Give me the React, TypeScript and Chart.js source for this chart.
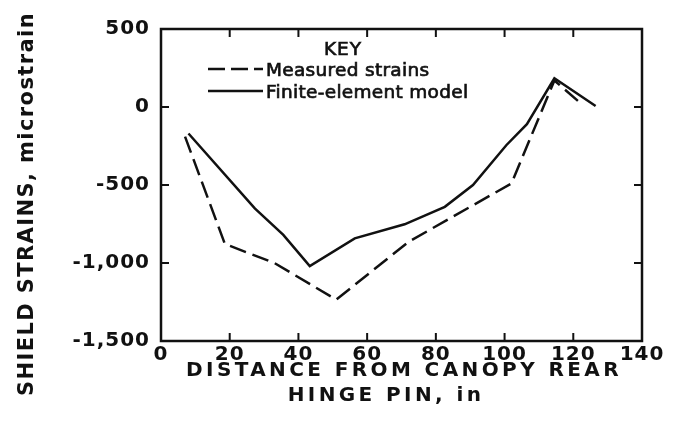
import React, { useEffect, useRef } from "react";
import { Chart, registerables } from "chart.js";

Chart.register(...registerables);

// ---- data ----
const xTicks = [0, 20, 40, 60, 80, 100, 120, 140];
const yTicks = [-1500, -1000, -500, 0, 500];

const measuredX = [7, 18.6, 33, 51, 72, 102, 114.5, 122.6];
const measuredY = [-190, -878, -1000, -1235, -865, -490, 170, 15];

const modelX = [8, 27.3, 35.6, 43.3, 56.4, 70.9, 82.6, 90.8, 100.5, 106.5, 114.5, 126.5];
const modelY = [-170, -650, -820, -1020, -842, -752, -640, -500, -245, -110, 184, 6];

const seriesNames = ["Measured strains", "Finite-element model"];
const legendTitle = "KEY";
const xTitleLines = ["DISTANCE FROM CANOPY REAR", "HINGE PIN, in"];
const yTitle = "SHIELD STRAINS, microstrain";

const INK = "#111";

function boldText(ctx: any, text: string, x: number, y: number, w: number) {
  ctx.fillText(text, x, y);
  if (w > 0) {
    ctx.lineWidth = w;
    ctx.strokeText(text, x, y);
  }
}

const decorPlugin = {
  id: "decor",
  beforeDraw(chart: any) {
    chart.ctx.letterSpacing = "1px";
  },
  afterDraw(chart: any) {
    const ctx = chart.ctx;
    const { left, right, top, bottom } = chart.chartArea;
    const xs = chart.scales.x;
    const ys = chart.scales.y;
    ctx.save();
    ctx.letterSpacing = "0px";
    ctx.strokeStyle = INK;
    ctx.lineWidth = 2.5;
    ctx.setLineDash([]);
    ctx.strokeRect(left, top, right - left, bottom - top);
    ctx.lineWidth = 2;
    const tl = 8;
    xTicks.slice(1, -1).forEach((v) => {
      const px = xs.getPixelForValue(v);
      ctx.beginPath();
      ctx.moveTo(px, bottom);
      ctx.lineTo(px, bottom - tl);
      ctx.moveTo(px, top);
      ctx.lineTo(px, top + tl);
      ctx.stroke();
    });
    yTicks.slice(1, -1).forEach((v) => {
      const py = ys.getPixelForValue(v);
      ctx.beginPath();
      ctx.moveTo(left, py);
      ctx.lineTo(left + tl, py);
      ctx.moveTo(right, py);
      ctx.lineTo(right - tl, py);
      ctx.stroke();
    });

    // legend
    ctx.fillStyle = INK;
    ctx.font = "18.5px 'DejaVu Sans'";
    ctx.textBaseline = "alphabetic";
    ctx.textAlign = "center";
    ctx.letterSpacing = "1px";
    boldText(ctx, legendTitle, 343, 55, 0.7);
    ctx.textAlign = "left";
    ctx.letterSpacing = "0.3px";
    const rows = [
      { y: 69, dash: [17, 6], base: 76 },
      { y: 91, dash: [], base: 98 },
    ];
    rows.forEach((r, i) => {
      ctx.lineWidth = 2.5;
      ctx.setLineDash(r.dash);
      ctx.beginPath();
      ctx.moveTo(208, r.y);
      ctx.lineTo(263, r.y);
      ctx.stroke();
      ctx.setLineDash([]);
      boldText(ctx, seriesNames[i], 266, r.base, 0.7);
    });

    // axis titles
    ctx.font = "bold 20px 'DejaVu Sans'";
    ctx.letterSpacing = "3.4px";
    ctx.textAlign = "center";
    ctx.fillText(xTitleLines[0], 404, 376);
    ctx.fillText(xTitleLines[1], 386, 401);

    ctx.save();
    ctx.translate(33, 204);
    ctx.rotate(-Math.PI / 2);
    ctx.font = "bold 21px 'DejaVu Sans'";
    ctx.letterSpacing = "1.4px";
    ctx.textAlign = "center";
    ctx.textBaseline = "alphabetic";
    ctx.fillText(yTitle, 0, 0);
    ctx.restore();

    ctx.restore();
    ctx.letterSpacing = "0px";
  },
};

export default function App() {
  const ref = useRef<HTMLCanvasElement | null>(null);
  useEffect(() => {
    if (!ref.current) return;
    const tickFont = { family: "'DejaVu Sans'", size: 20, weight: "bold" as const };
    const chart = new Chart(ref.current, {
      type: "line",
      data: {
        datasets: [
          {
            label: seriesNames[0],
            data: measuredX.map((x, i) => ({ x, y: measuredY[i] })),
            borderColor: INK,
            borderWidth: 2.5,
            borderDash: [17, 7],
            pointRadius: 0,
            fill: false,
            tension: 0,
          },
          {
            label: seriesNames[1],
            data: modelX.map((x, i) => ({ x, y: modelY[i] })),
            borderColor: INK,
            borderWidth: 2.5,
            pointRadius: 0,
            fill: false,
            tension: 0,
          },
        ],
      },
      options: {
        animation: false,
        responsive: false,
        maintainAspectRatio: false,
        devicePixelRatio: 1,
        layout: { padding: { top: 29, right: 31, left: 0, bottom: 0 } },
        plugins: { legend: { display: false }, tooltip: { enabled: false } },
        scales: {
          x: {
            type: "linear",
            min: 0,
            max: 140,
            grid: { display: false, drawTicks: false },
            border: { display: false },
            afterBuildTicks: (s: any) => {
              s.ticks = xTicks.map((v) => ({ value: v }));
            },
            afterFit: (s: any) => {
              s.height = 96;
            },
            ticks: {
              color: INK,
              font: tickFont,
              padding: 2,
              maxRotation: 0,
              autoSkip: false,
              callback: (v: any) => String(v),
            },
          },
          y: {
            type: "linear",
            min: -1500,
            max: 500,
            grid: { display: false, drawTicks: false },
            border: { display: false },
            afterBuildTicks: (s: any) => {
              s.ticks = yTicks.map((v) => ({ value: v }));
            },
            afterFit: (s: any) => {
              s.width = 161;
            },
            ticks: {
              color: INK,
              font: tickFont,
              padding: 11,
              autoSkip: false,
              callback: (v: any) => Number(v).toLocaleString("en-US"),
            },
          },
        },
      },
      plugins: [decorPlugin],
    });
    return () => chart.destroy();
  }, []);
  return (
    <div style={{ position: "fixed", left: 0, top: 0, width: 673, height: 437, background: "#fff" }}>
      <canvas ref={ref} width={673} height={437} style={{ display: "block" }} />
    </div>
  );
}
